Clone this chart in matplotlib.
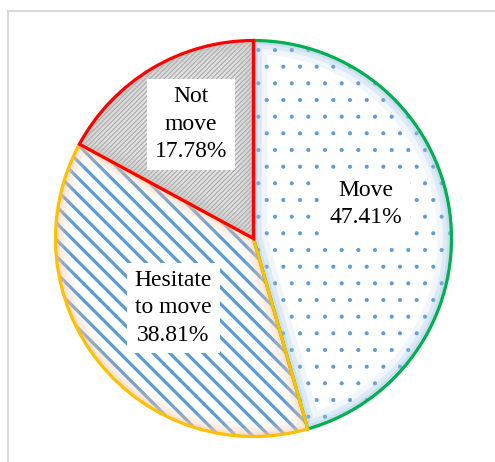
import matplotlib
matplotlib.use("Agg")
import matplotlib.pyplot as plt
from matplotlib.patches import Rectangle

labels = ["Move", "Hesitate\nto move", "Not\nmove"]
percents = [47.41, 38.81, 17.78]
edge_colors = ["#00B050", "#FFC000", "#FF0000"]
face_colors = ["white", "white", "#e2e2e2"]
hatch_colors = ["#5B9BD5", "#5B9BD5", "#a6a6a6"]
glow_colors = ["#9dc3e6", "#f8cbad", "#bfbfbf"]
hatches = [".", "\\\\", "///////"]
hatch_widths = [0.5, 2.3, 0.8]
# label centres inside the pie (radius = 1)
label_pos = [(0.568, 0.174), (-0.404, -0.351), (-0.316, 0.578)]

plt.rcParams['font.family'] = ['Liberation Serif', 'DejaVu Serif']

fig = plt.figure(figsize=(4.95, 4.62), dpi=100)

# chart area frame (cut at right / bottom)
fig.patches.append(Rectangle((8 / 495, -0.1), 1.2, 1 - 11 / 462 + 0.1,
                             transform=fig.transFigure, fill=False,
                             edgecolor="#d9d9d9", linewidth=1.5))

cx, cy, r = 253.5, 238.5, 198
ax = fig.add_axes([(cx - r) / 495, (462 - cy - r) / 462, 2 * r / 495, 2 * r / 462])

wedges, _ = ax.pie(percents, startangle=90, counterclock=False, radius=1,
                   colors=face_colors, wedgeprops=dict(linewidth=0))
for w, hc, h, hw in zip(wedges, hatch_colors, hatches, hatch_widths):
    w.set_edgecolor(hc)
    w.set_hatch(h)
    if hasattr(w, "set_hatch_linewidth"):
        w.set_hatch_linewidth(hw)

# soft inner glow along each slice border, clipped to the slice
for i, gc in enumerate(glow_colors):
    for lw, a in [(20, 0.15), (12, 0.22), (6, 0.3)]:
        g = ax.pie(percents, startangle=90, counterclock=False, radius=1,
                   wedgeprops=dict(fill=False, linewidth=lw))[0]
        for j, gw in enumerate(g):
            if j == i:
                gw.set_edgecolor(gc)
                gw.set_alpha(a)
                gw.set_clip_on(True)
                gw.set_clip_path(wedges[i].get_path(), wedges[i].get_transform())
            else:
                gw.remove()

outline, _ = ax.pie(percents, startangle=90, counterclock=False, radius=1,
                    wedgeprops=dict(fill=False, linewidth=2.3))
for w, ec in zip(outline, edge_colors):
    w.set_edgecolor(ec)

for lab, pct, (x, y) in zip(labels, percents, label_pos):
    ax.text(x, y, f"{lab}\n{pct:.2f}%", ha="center", va="center",
            fontsize=17, linespacing=1.4, color="black",
            bbox=dict(boxstyle="square,pad=0.32", facecolor="white", edgecolor="none"))

ax.set_xlim(-1, 1)
ax.set_ylim(-1, 1)
ax.axis("off")

fig.savefig("out.png", dpi=100)
